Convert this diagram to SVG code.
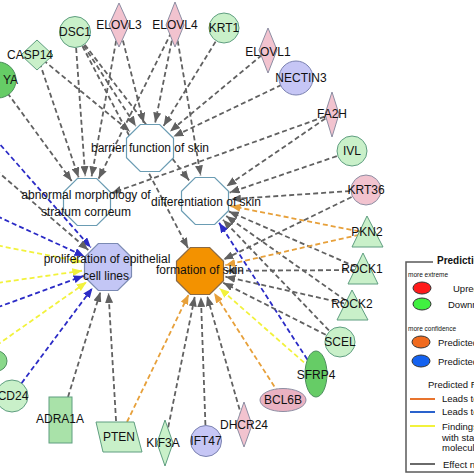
<svg xmlns="http://www.w3.org/2000/svg" width="474" height="474" viewBox="0 0 474 474">
<style>
text{font-family:"Liberation Sans",Arial,sans-serif;fill:#111;}
.lbl{font-size:12px;text-anchor:middle;}
.e{fill:none;stroke-width:1.8;stroke-dasharray:5 3;}
.g{stroke:#616161;marker-end:url(#ag);}
.b{stroke:#2b2bc6;marker-end:url(#ab);}
.y{stroke:#f2f23c;marker-end:url(#ay);}
.o{stroke:#e7a03a;marker-end:url(#ao);}
.pink{fill:#f2c3cf;stroke:#8d8ea3;stroke-width:1;}
.lg{fill:#c9f0c9;stroke:#5f9e80;stroke-width:1;}
.dg{fill:#66cc66;stroke:#4d8f5e;stroke-width:1;}
.lav{fill:#c6c6f5;stroke:#7b82b0;stroke-width:1;}
.oct{fill:#fff;stroke:#6a9cb3;stroke-width:1.2;}
.leg{font-size:9.5px;}
.small{font-size:6.5px;}
</style>
<defs>
<marker id="ag" markerUnits="userSpaceOnUse" markerWidth="10" markerHeight="8" refX="10" refY="4" orient="auto"><path d="M0,0L10,4L0,8z" fill="#616161"/></marker>
<marker id="ab" markerUnits="userSpaceOnUse" markerWidth="10" markerHeight="8" refX="10" refY="4" orient="auto"><path d="M0,0L10,4L0,8z" fill="#2b2bc6"/></marker>
<marker id="ay" markerUnits="userSpaceOnUse" markerWidth="10" markerHeight="8" refX="10" refY="4" orient="auto"><path d="M0,0L10,4L0,8z" fill="#f2f23c"/></marker>
<marker id="ao" markerUnits="userSpaceOnUse" markerWidth="10" markerHeight="8" refX="10" refY="4" orient="auto"><path d="M0,0L10,4L0,8z" fill="#e7a03a"/></marker>
</defs>
<rect width="474" height="474" fill="#fff"/>
<g id="connectors">
<!-- to barrier function of skin -->
<line class="e g" x1="37" y1="55" x2="129.9" y2="131.5"/>
<line class="e g" x1="75" y1="32" x2="135.9" y2="126.2"/>
<line class="e g" x1="119" y1="25" x2="143.7" y2="122.8"/>
<line class="e g" x1="175" y1="25" x2="155.2" y2="122.5"/>
<line class="e g" x1="224" y1="28" x2="163.6" y2="125.9"/>
<line class="e g" x1="268" y1="50" x2="170" y2="131.4"/>
<line class="e g" x1="296" y1="78" x2="173.4" y2="136.6"/>
<!-- to abnormal morphology -->
<line class="e g" x1="-2" y1="80" x2="71.7" y2="181"/>
<line class="e g" x1="37" y1="55" x2="78.6" y2="177.4"/>
<line class="e g" x1="75" y1="32" x2="85.2" y2="176.1"/>
<line class="e g" x1="119" y1="25" x2="91.6" y2="176.4"/>
<line class="e g" x1="175" y1="25" x2="98.6" y2="178.7"/>
<line class="e g" x1="332" y1="114" x2="111.5" y2="193.2"/>
<!-- to differentiation of skin -->
<line class="e g" x1="75" y1="32" x2="189.1" y2="180.4"/>
<line class="e g" x1="175" y1="25" x2="200.6" y2="175.4"/>
<line class="e g" x1="332" y1="114" x2="226.5" y2="186.3"/>
<line class="e g" x1="352" y1="151" x2="229.6" y2="192.6"/>
<line class="e g" x1="366" y1="190" x2="230.9" y2="199.2"/>
<line class="e o" x1="367" y1="233" x2="230.5" y2="206"/>
<line class="e g" x1="363" y1="270" x2="228.8" y2="211.4"/>
<line class="e g" x1="352" y1="305" x2="226.2" y2="216"/>
<line class="e g" x1="340" y1="342" x2="223" y2="219.8"/>
<line class="e b" x1="316" y1="373" x2="219.1" y2="222.8"/>
<!-- to formation of skin -->
<line class="e g" x1="75" y1="32" x2="188" y2="248"/>
<line class="e g" x1="366" y1="190" x2="223.4" y2="259.6"/>
<line class="e o" x1="367" y1="233" x2="225.4" y2="265.2"/>
<line class="e g" x1="363" y1="270" x2="226" y2="270.8"/>
<line class="e g" x1="352" y1="305" x2="225.4" y2="276.7"/>
<line class="e g" x1="340" y1="342" x2="223.2" y2="282.8"/>
<line class="e y" x1="316" y1="373" x2="219.5" y2="288.2"/>
<line class="e o" x1="283" y1="400" x2="214.1" y2="292.9"/>
<line class="e g" x1="244" y1="425" x2="207.1" y2="296"/>
<line class="e g" x1="206" y1="441" x2="200.9" y2="297"/>
<line class="e g" x1="165" y1="443" x2="194.8" y2="296.5"/>
<line class="e o" x1="127" y1="422" x2="188.7" y2="294.4"/>
<!-- to proliferation of epithelial cell lines -->
<line class="e b" x1="-10" y1="133" x2="90.8" y2="247.5"/>
<line class="e g" x1="-10" y1="165" x2="88.3" y2="250"/>
<line class="e b" x1="-10" y1="213" x2="84.4" y2="256.2"/>
<line class="e y" x1="-10" y1="244" x2="82.5" y2="262"/>
<line class="e y" x1="-10" y1="284" x2="82.3" y2="270.7"/>
<line class="e b" x1="-10" y1="310" x2="83.6" y2="275.9"/>
<line class="e y" x1="-10" y1="350" x2="86.7" y2="282"/>
<line class="e b" x1="12" y1="396" x2="92.5" y2="287.9"/>
<line class="e g" x1="68" y1="397" x2="100.4" y2="291.9"/>
<line class="e g" x1="117" y1="437" x2="108.5" y2="293"/>
</g>
<g id="n-barrier"><polygon class="oct" points="140.3,124.5 159.7,124.5 173.5,138.3 173.5,157.7 159.7,171.5 140.3,171.5 126.5,157.7 126.5,138.3"/><text class="lbl" x="150" y="152">barrier function of skin</text></g>
<g id="n-abnormal"><polygon class="oct" points="77.3,178.5 96.7,178.5 110.5,192.3 110.5,211.7 96.7,225.5 77.3,225.5 63.5,211.7 63.5,192.3"/><text class="lbl" x="86" y="199">abnormal morphology of</text><text class="lbl" x="86" y="216">stratum corneum</text></g>
<g id="n-differentiation"><polygon class="oct" points="195.3,177.5 214.7,177.5 228.5,191.3 228.5,210.7 214.7,224.5 195.3,224.5 181.5,210.7 181.5,191.3"/><text class="lbl" x="206" y="206">differentiation of skin</text></g>
<g id="n-proliferation"><polygon class="oct" style="fill:#c3c6f5;stroke:#7b8ab3" points="98.3,243.5 117.7,243.5 131.5,257.3 131.5,276.7 117.7,290.5 98.3,290.5 84.5,276.7 84.5,257.3"/><text class="lbl" x="107" y="263">proliferation of epithelial</text><text class="lbl" x="106" y="280">cell lines</text></g>
<g id="n-formation"><polygon class="oct" style="fill:#f39200;stroke:#8a6a45" points="190.3,247.5 209.7,247.5 223.5,261.3 223.5,280.7 209.7,294.5 190.3,294.5 176.5,280.7 176.5,261.3"/><text class="lbl" x="200" y="274">formation of skin</text></g>
<g id="n-YA"><circle class="dg" cx="-2" cy="80" r="18"/><text class="lbl" x="18" y="84" style="text-anchor:end">YA</text></g>
<g id="n-CASP14"><polygon class="lg" points="37,40 53,55 37,70 21,55"/><text class="lbl" x="30" y="59">CASP14</text></g>
<g id="n-DSC1"><circle class="lg" cx="75" cy="32" r="15.5"/><text class="lbl" x="75" y="36">DSC1</text></g>
<g id="n-ELOVL3"><polygon class="pink" points="119,3 129,25 119,47 109,25"/><text class="lbl" x="119" y="29">ELOVL3</text></g>
<g id="n-ELOVL4"><polygon class="pink" points="175,2 184,25 175,47 166,25"/><text class="lbl" x="175" y="29">ELOVL4</text></g>
<g id="n-KRT1"><circle class="lg" cx="224" cy="28" r="15"/><text class="lbl" x="224" y="32">KRT1</text></g>
<g id="n-ELOVL1"><polygon class="pink" points="268,28 277,50 268,73 259,50"/><text class="lbl" x="268" y="56">ELOVL1</text></g>
<g id="n-NECTIN3"><circle class="lav" cx="296" cy="78" r="17"/><text class="lbl" x="301" y="82">NECTIN3</text></g>
<g id="n-FA2H"><polygon class="pink" points="332,92 339,114 332,137 325,114"/><text class="lbl" x="332" y="118">FA2H</text></g>
<g id="n-IVL"><circle class="lg" cx="352" cy="151" r="15"/><text class="lbl" x="352" y="155">IVL</text></g>
<g id="n-KRT36"><circle class="pink" cx="366" cy="190" r="15"/><text class="lbl" x="366" y="194">KRT36</text></g>
<g id="n-PKN2"><polygon class="lg" points="367,216 383,247 352,247"/><text class="lbl" x="367" y="236">PKN2</text></g>
<g id="n-ROCK1"><polygon class="lg" points="363,253 378,284 348,284"/><text class="lbl" x="362" y="273">ROCK1</text></g>
<g id="n-ROCK2"><polygon class="lg" points="352,290 368,320 337,320"/><text class="lbl" x="352" y="308">ROCK2</text></g>
<g id="n-SCEL"><circle class="lg" cx="340" cy="342" r="15"/><text class="lbl" x="340" y="346">SCEL</text></g>
<g id="n-SFRP4"><ellipse class="dg" cx="316" cy="374" rx="11" ry="23"/><text class="lbl" x="316" y="379">SFRP4</text></g>
<g id="n-BCL6B"><ellipse class="pink" style="fill:#eab2c2" cx="283" cy="400" rx="23" ry="11.5"/><text class="lbl" x="283" y="404">BCL6B</text></g>
<g id="n-DHCR24"><polygon class="pink" points="244,402 252,425 244,447 236,425"/><text class="lbl" x="244" y="429">DHCR24</text></g>
<g id="n-IFT47"><circle class="lav" cx="206" cy="441" r="15.5"/><text class="lbl" x="206" y="445">IFT47</text></g>
<g id="n-KIF3A"><polygon class="lg" points="165,420 173,443 165,466 157,443"/><text class="lbl" x="163" y="447">KIF3A</text></g>
<g id="n-PTEN"><polygon class="lg" points="96,422 134,422 142,452 103,452"/><text class="lbl" x="119" y="441">PTEN</text></g>
<g id="n-ADRA1A"><rect class="lg" style="fill:#a9e2a9" x="49" y="397" width="23" height="46"/><text class="lbl" x="60" y="423">ADRA1A</text></g>
<g id="n-CD24"><circle class="lg" cx="12" cy="396" r="16"/><text class="lbl" x="13" y="400">CD24</text></g>
<g id="n-left"><circle class="dg" style="fill:#8ad88a" cx="-3" cy="361" r="10"/></g>
<g id="legend">
<rect x="406" y="262" width="80" height="210" fill="#fff" stroke="#5a5a5a" stroke-width="1.5"/>
<rect x="433" y="255" width="41" height="14" fill="#fff"/>
<text x="437" y="264" style="font-size:10px;font-weight:bold">Prediction Legend</text>
<text class="small" x="408" y="277">more extreme</text>
<ellipse cx="422" cy="288" rx="9" ry="6" fill="#ff1a1a" stroke="#333"/>
<text class="leg" x="453" y="291.5">Upregulated</text>
<ellipse cx="422" cy="304" rx="9" ry="6" fill="#40f040" stroke="#333"/>
<text class="leg" x="448" y="307.5">Downregulated</text>
<text class="small" x="408" y="331">more confidence</text>
<ellipse cx="421" cy="342" rx="9" ry="6" fill="#f06a1e" stroke="#333"/>
<text class="leg" x="438" y="345.5">Predicted activation</text>
<ellipse cx="421" cy="361" rx="9" ry="6" fill="#1462f0" stroke="#333"/>
<text class="leg" x="438" y="364.5">Predicted inhibition</text>
<text class="leg" x="428" y="388">Predicted Relationships</text>
<line x1="410" y1="399" x2="435" y2="399" stroke="#e8742e" stroke-width="2"/>
<text class="leg" x="442" y="402">Leads to activation</text>
<line x1="410" y1="412" x2="435" y2="412" stroke="#2a62cc" stroke-width="2"/>
<text class="leg" x="442" y="415">Leads to inhibition</text>
<line x1="410" y1="426" x2="435" y2="426" stroke="#f2f23c" stroke-width="2"/>
<text class="leg" x="442" y="429.5">Findings inconsistent</text>
<text class="leg" x="442" y="440.5">with state of downstream</text>
<text class="leg" x="442" y="450.5">molecule</text>
<line x1="410" y1="464" x2="435" y2="464" stroke="#6a6a6a" stroke-width="2"/>
<text class="leg" x="443" y="467.5">Effect not predicted</text>
</g>
</svg>
